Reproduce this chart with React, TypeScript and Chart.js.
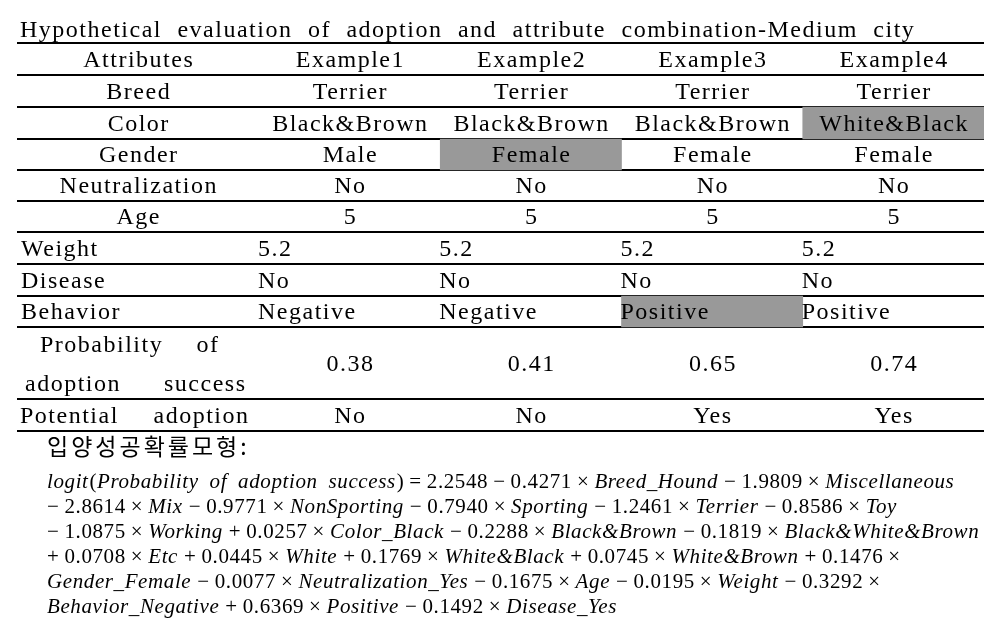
import React, { useEffect, useRef } from 'react';
import { Chart, registerables } from 'chart.js';

Chart.register(...registerables);

// ---------------- data ----------------
const TITLE = 'Hypothetical evaluation of adoption and attribute combination-Medium city';
const HEADER_LABEL = 'Attributes';
const EXAMPLES = ['Example1', 'Example2', 'Example3', 'Example4'];
const ROW_LABELS = ['Breed', 'Color', 'Gender', 'Neutralization', 'Age', 'Weight', 'Disease', 'Behavior', 'Probability of adoption success', 'Potential adoption'];
const BREED = ['Terrier', 'Terrier', 'Terrier', 'Terrier'];
const COLOR = ['Black&Brown', 'Black&Brown', 'Black&Brown', 'White&Black'];
const GENDER = ['Male', 'Female', 'Female', 'Female'];
const NEUTRALIZATION = ['No', 'No', 'No', 'No'];
const AGE = [5, 5, 5, 5];
const WEIGHT = [5.2, 5.2, 5.2, 5.2];
const DISEASE = ['No', 'No', 'No', 'No'];
const BEHAVIOR = ['Negative', 'Negative', 'Positive', 'Positive'];
const PROBABILITY = [0.38, 0.41, 0.65, 0.74];
const POTENTIAL = ['No', 'No', 'Yes', 'Yes'];
// attribute that was changed (highlighted cell) in each example
const CHANGED_ATTRIBUTE = [null, 'Gender', 'Behavior', 'Color'];
const MODEL_HEADING = '입양성공확률모형:';
const EQUATION_LINES = [
  'logit(Probability of adoption success) = 2.2548 − 0.4271 × Breed_Hound − 1.9809 × Miscellaneous',
  '− 2.8614 × Mix − 0.9771 × NonSporting − 0.7940 × Sporting − 1.2461 × Terrier − 0.8586 × Toy',
  '− 1.0875 × Working + 0.0257 × Color_Black − 0.2288 × Black&Brown − 0.1819 × Black&White&Brown',
  '+ 0.0708 × Etc + 0.0445 × White + 0.1769 × White&Black + 0.0745 × White&Brown + 0.1476 ×',
  'Gender_Female − 0.0077 × Neutralization_Yes − 0.1675 × Age − 0.0195 × Weight − 0.3292 ×',
  'Behavior_Negative + 0.6369 × Positive − 0.1492 × Disease_Yes',
];

// ---------------- layout / style ----------------
const ROW_HEIGHTS = [32, 32, 32, 31, 31, 31, 32, 32, 31, 72, 32];
const LEFT_ALIGNED_ROWS = ['Weight', 'Disease', 'Behavior'];
const LABEL_COL_WIDTH = 242;
const TABLE_FONT = '24px "Liberation Serif"';
const TABLE_LS = 1.5;
const MATH_FONT_SIZE = 21;
const HIGHLIGHT = '#999999';

const ROW_VALUES: (string | number)[][] = [
  EXAMPLES,
  BREED,
  COLOR,
  GENDER,
  NEUTRALIZATION,
  AGE,
  WEIGHT,
  DISEASE,
  BEHAVIOR,
  PROBABILITY.map((v) => v.toFixed(2)),
  POTENTIAL,
];
const ALL_LABELS = [HEADER_LABEL, ...ROW_LABELS];

const BOUNDS: number[] = ROW_HEIGHTS.reduce((acc: number[], h) => {
  acc.push(acc[acc.length - 1] + h);
  return acc;
}, [0]);
const TOTAL = BOUNDS[BOUNDS.length - 1];

function drawText(ctx: CanvasRenderingContext2D, s: string, x: number, y: number, align: CanvasTextAlign, font = TABLE_FONT, ls = TABLE_LS, ws = 0) {
  ctx.save();
  ctx.font = font;
  (ctx as any).letterSpacing = ls + 'px';
  (ctx as any).wordSpacing = ws + 'px';
  ctx.textAlign = align;
  ctx.textBaseline = 'alphabetic';
  ctx.fillStyle = '#000';
  const dx = align === 'center' ? ls / 2 : align === 'right' ? ls : 0;
  ctx.fillText(s, x + dx, y);
  ctx.restore();
}

function drawJustified(ctx: CanvasRenderingContext2D, s: string, x0: number, x1: number, y: number) {
  const words = s.split(' ');
  drawText(ctx, words[0], x0, y, 'left');
  drawText(ctx, words[words.length - 1], x1, y, 'right');
}

function drawMath(ctx: CanvasRenderingContext2D, line: string, x: number, y: number) {
  const tokens = line.match(/[A-Za-z_&]+|\d+(?:\.\d+)?|[()=+−×]|\s+/g) || [];
  const italic = `italic ${MATH_FONT_SIZE}px "Liberation Serif"`;
  const upright = `${MATH_FONT_SIZE}px "Liberation Serif"`;
  const opGap = 5;
  const wordGap = 10;
  let cx = x;
  let prevWord = false;
  ctx.save();
  ctx.fillStyle = '#000';
  ctx.textAlign = 'left';
  ctx.textBaseline = 'alphabetic';
  (ctx as any).letterSpacing = '0.6px';
  tokens.forEach((t, i) => {
    if (/^\s+$/.test(t)) {
      const next = tokens[i + 1];
      if (prevWord && next && /^[A-Za-z_&]/.test(next)) cx += wordGap;
      return;
    }
    if (/^[A-Za-z_&]/.test(t)) {
      ctx.font = italic;
      ctx.fillText(t, cx, y);
      cx += ctx.measureText(t).width + 1;
      prevWord = true;
    } else if (/^[+−×=]$/.test(t)) {
      if (i > 0) cx += opGap;
      ctx.font = upright;
      ctx.fillText(t, cx, y);
      cx += ctx.measureText(t).width + opGap;
      prevWord = false;
    } else {
      ctx.font = upright;
      ctx.fillText(t, cx, y);
      cx += ctx.measureText(t).width;
      prevWord = false;
    }
  });
  ctx.restore();
}

const tablePlugin = {
  id: 'tableText',
  afterDraw(chart: any) {
    const { ctx, chartArea } = chart;
    const xs = chart.scales.x;
    const ys = chart.scales.y;
    const colW = chartArea.width / EXAMPLES.length;
    const labL = ys.left;
    const labR = ys.right;

    // title
    drawText(ctx, TITLE, labL + 3, chartArea.top - 6, 'left', TABLE_FONT, TABLE_LS, 8);

    ALL_LABELS.forEach((label, r) => {
      const cy = ys.getPixelForValue((BOUNDS[r] + BOUNDS[r + 1]) / 2);
      const base = cy + 7.5;
      const leftAligned = LEFT_ALIGNED_ROWS.includes(label);
      if (label === 'Probability of adoption success') {
        drawJustified(ctx, 'Probability of', labL + 23, labR - 41, base - 19);
        drawJustified(ctx, 'adoption success', labL + 8, labR - 14, base + 20);
      } else if (label === 'Potential adoption') {
        drawJustified(ctx, label, labL + 3, labR - 11, base);
      } else if (leftAligned) {
        drawText(ctx, label, labL + 4, base, 'left');
      } else {
        drawText(ctx, label, (labL + labR) / 2, base, 'center');
      }
      ROW_VALUES[r].forEach((v, c) => {
        const cx = xs.getPixelForValue(c);
        if (leftAligned) drawText(ctx, String(v), cx - colW / 2 - 1, base, 'left');
        else drawText(ctx, String(v), cx, base, 'center');
      });
    });

    // model heading + equation
    drawText(ctx, MODEL_HEADING, labL + 30, chartArea.bottom + 24, 'left', '23px "Noto Sans CJK KR"', 3);
    EQUATION_LINES.forEach((line, i) => {
      drawMath(ctx, line, labL + 30, chartArea.bottom + 57 + i * 25);
    });
  },
};

export default function App() {
  const ref = useRef<HTMLCanvasElement>(null);
  useEffect(() => {
    const rowIndex = (name: string | null) => (name ? ALL_LABELS.indexOf(name) : -1);
    const chart = new Chart(ref.current as HTMLCanvasElement, {
      type: 'bar',
      data: {
        labels: EXAMPLES,
        datasets: [
          {
            label: 'Changed attribute',
            data: CHANGED_ATTRIBUTE.map((a) => {
              const r = rowIndex(a);
              return r >= 0 ? [BOUNDS[r], BOUNDS[r + 1]] : null;
            }) as any,
            backgroundColor: HIGHLIGHT,
            borderWidth: 0,
            barPercentage: 1,
            categoryPercentage: 1,
          },
        ],
      },
      options: {
        animation: false,
        responsive: false,
        devicePixelRatio: 1,
        layout: { padding: { left: 17, top: 43, right: 10, bottom: 200 } },
        plugins: { legend: { display: false }, tooltip: { enabled: false }, title: { display: false } },
        scales: {
          x: { type: 'category', display: false },
          y: {
            type: 'linear',
            reverse: true,
            min: 0,
            max: TOTAL,
            position: 'left',
            z: 1,
            border: { display: false },
            ticks: { display: false },
            grid: { color: '#000', lineWidth: 2, drawTicks: true, tickLength: LABEL_COL_WIDTH },
            afterBuildTicks: (scale: any) => {
              scale.ticks = BOUNDS.map((v) => ({ value: v }));
            },
            afterFit: (scale: any) => {
              scale.width = LABEL_COL_WIDTH;
            },
          },
        },
      },
      plugins: [tablePlugin],
    } as any);
    return () => chart.destroy();
  }, []);
  return (
    <div style={{ position: 'absolute', left: 0, top: 0, width: 994, height: 631, background: '#fff' }}>
      <canvas ref={ref} width={994} height={631} style={{ display: 'block' }} />
    </div>
  );
}
